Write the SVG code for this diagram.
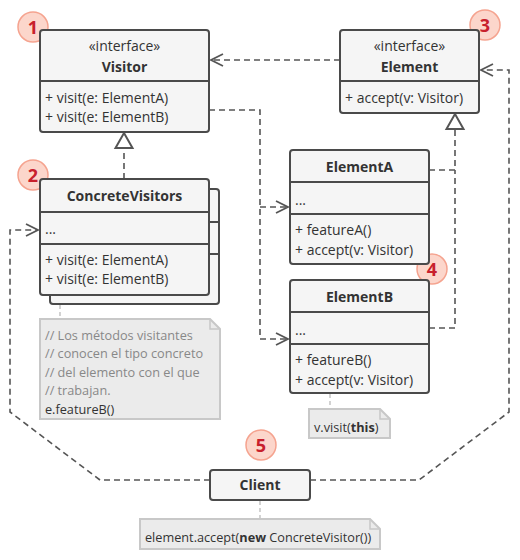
<svg xmlns="http://www.w3.org/2000/svg" width="520" height="560" viewBox="0 0 520 560">
<defs>
<style>
.box{fill:#f5f5f5;stroke:#4a4a4a;stroke-width:2}
.div{stroke:#4a4a4a;stroke-width:2}
.t{font-family:"Open Sans","Liberation Sans",sans-serif;font-size:14px;fill:#333}
.n{font-size:12.7px}
.b{font-weight:bold}
.m{text-anchor:middle}
.con{fill:none;stroke:#555;stroke-width:1.6;stroke-dasharray:6,4}
.note{fill:#ebebeb;stroke:#c8c8c8;stroke-width:2}
.nc{fill:none;stroke:#c8c8c8;stroke-width:1.6;stroke-dasharray:4,3}
.cm{fill:#888}
.badge{fill:#fbcfc2;fill-opacity:0.85;stroke:#f5a38f;stroke-width:1.5}
.bn{font-family:"Open Sans","Liberation Sans",sans-serif;font-size:18px;font-weight:bold;fill:#c8202c;text-anchor:middle}
.tri{fill:#fff;stroke:#555;stroke-width:2}
</style>
<marker id="open" viewBox="0 0 14 14" refX="13" refY="7" markerWidth="14" markerHeight="14" markerUnits="userSpaceOnUse" orient="auto">
<path d="M1,1 L13,7 L1,13" fill="none" stroke="#555" stroke-width="1.8"/>
</marker>
</defs>
<rect width="520" height="560" fill="#fff"/>

<g id="connectors">
<path class="con" d="M340,60 H211" marker-end="url(#open)"/>
<path class="con" d="M209,110 H260 V339 H288" marker-end="url(#open)"/>
<path class="con" d="M260,207 H288" marker-end="url(#open)"/>
<path class="con" d="M124,179 V149"/>
<path class="tri" d="M124,133 L132.5,148 L115.5,148 Z"/>
<path class="con" d="M429,170 H455 V130"/>
<path class="con" d="M429,328 H455 V170"/>
<path class="tri" d="M455,114 L463.5,129 L446.5,129 Z"/>
<path class="con" d="M210,480 H100 L10,412 V230 H38" marker-end="url(#open)"/>
<path class="con" d="M310,480 H419 L509,412 V70 H481" marker-end="url(#open)"/>
<path class="nc" d="M60,305 V319"/>
<path class="nc" d="M330,394 V409"/>
<path class="nc" d="M260,501 V519"/>
</g>

<g id="badge1"><circle class="badge" cx="33" cy="27" r="15"/><text class="bn" x="33" y="33.5">1</text></g>
<g id="badge2"><circle class="badge" cx="33" cy="175" r="15"/><text class="bn" x="33" y="181.5">2</text></g>
<g id="badge3"><circle class="badge" cx="485" cy="25" r="15"/><text class="bn" x="485" y="31.5">3</text></g>
<g id="badge4"><circle class="badge" cx="432" cy="269" r="15"/><text class="bn" x="432" y="275.5">4</text></g>
<g id="badge5"><circle class="badge" cx="261" cy="445" r="15"/><text class="bn" x="261" y="451.5">5</text></g>

<g id="visitor">
<rect class="box" x="40" y="30" width="169" height="102" rx="3"/>
<line class="div" x1="40" y1="81" x2="209" y2="81"/>
<text class="t m" x="124.5" y="51">«interface»</text>
<text class="t b m" x="124.5" y="72">Visitor</text>
<text class="t" x="45" y="103">+ visit(e: ElementA)</text>
<text class="t" x="45" y="122">+ visit(e: ElementB)</text>
</g>

<g id="element">
<rect class="box" x="340" y="30" width="139" height="83" rx="3"/>
<line class="div" x1="340" y1="81" x2="479" y2="81"/>
<text class="t m" x="409.5" y="51">«interface»</text>
<text class="t b m" x="409.5" y="72">Element</text>
<text class="t" x="345" y="103">+ accept(v: Visitor)</text>
</g>

<g id="concreteVisitors">
<rect class="box" x="50" y="189" width="169" height="115" rx="3"/>
<line class="div" x1="50" y1="222" x2="219" y2="222"/>
<line class="div" x1="50" y1="254" x2="219" y2="254"/>
<rect class="box" x="40" y="179" width="169" height="116" rx="3"/>
<line class="div" x1="40" y1="212" x2="209" y2="212"/>
<line class="div" x1="40" y1="244" x2="209" y2="244"/>
<text class="t b m" x="124.5" y="201">ConcreteVisitors</text>
<text class="t" x="45" y="234">...</text>
<text class="t" x="45" y="265">+ visit(e: ElementA)</text>
<text class="t" x="45" y="284">+ visit(e: ElementB)</text>
</g>

<g id="elementA">
<rect class="box" x="290" y="150" width="139" height="114" rx="3"/>
<line class="div" x1="290" y1="182" x2="429" y2="182"/>
<line class="div" x1="290" y1="214" x2="429" y2="214"/>
<text class="t b m" x="359.5" y="172">ElementA</text>
<text class="t" x="295" y="205">...</text>
<text class="t" x="295" y="235">+ featureA()</text>
<text class="t" x="295" y="255">+ accept(v: Visitor)</text>
</g>

<g id="elementB">
<rect class="box" x="290" y="280" width="139" height="113" rx="3"/>
<line class="div" x1="290" y1="312" x2="429" y2="312"/>
<line class="div" x1="290" y1="344" x2="429" y2="344"/>
<text class="t b m" x="359.5" y="302">ElementB</text>
<text class="t" x="295" y="335">...</text>
<text class="t" x="295" y="365">+ featureB()</text>
<text class="t" x="295" y="385">+ accept(v: Visitor)</text>
</g>

<g id="client">
<rect class="box" x="210" y="470" width="100" height="30" rx="3"/>
<text class="t b m" x="260" y="490">Client</text>
</g>

<g id="note1">
<path class="note" d="M40,319 H210 L220,329 V419 H40 Z"/>
<path d="M210,319 V329 H220" fill="none" stroke="#c8c8c8" stroke-width="1.5"/>
<text class="t n cm" x="45" y="339.5">// Los métodos visitantes</text>
<text class="t n cm" x="45" y="358">// conocen el tipo concreto</text>
<text class="t n cm" x="45" y="376.5">// del elemento con el que</text>
<text class="t n cm" x="45" y="395">// trabajan.</text>
<text class="t n" x="45" y="413.5">e.featureB()</text>
</g>

<g id="note2">
<path class="note" d="M309,409 H380 L390,419 V438 H309 Z"/>
<path d="M380,409 V419 H390" fill="none" stroke="#c8c8c8" stroke-width="1.5"/>
<text class="t n" x="314" y="431.5">v.visit(<tspan class="b">this</tspan>)</text>
</g>

<g id="note3">
<path class="note" d="M140,519 H370 L380,529 V549 H140 Z"/>
<path d="M370,519 V529 H380" fill="none" stroke="#c8c8c8" stroke-width="1.5"/>
<text class="t n" x="145" y="541.5">element.accept(<tspan class="b">new</tspan> ConcreteVisitor())</text>
</g>
</svg>
